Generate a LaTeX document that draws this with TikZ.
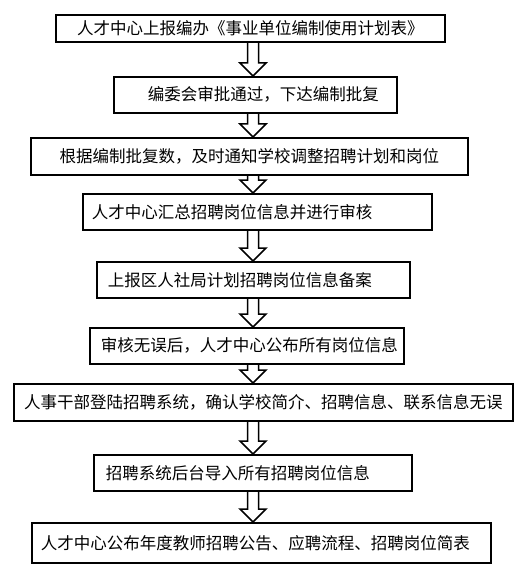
\documentclass[tikz,border=0pt]{standalone}
\usepackage{fontspec}
\newfontfamily\cjk{Noto Sans CJK SC}
\usepackage{tikz}
\usetikzlibrary{calc,positioning}

\tikzset{
	stepbox/.style={draw,line width=1.6pt,anchor=north west,inner xsep=0pt,font=\cjk\fontsize{16.5}{20}\selectfont},
	blockarrow/.style={line width=1.5pt,to path={let \p1=(\tikztostart), \p2=(\tikztotarget) in
		(\x1-5.5pt,\y1) -- (\x1-5.5pt,\y2+13pt) -- (\x1-13pt,\y2+13pt) -- (\x2,\y2)
		-- (\x1+13pt,\y2+13pt) -- (\x1+5.5pt,\y2+13pt) -- (\x1+5.5pt,\y1)}}
}

\begin{document}
\begin{tikzpicture}[x=1pt,y=-1pt]
		\useasboundingbox (0,0) rectangle (528,572);
		\coordinate (spine) at (253,0);
		
		\node[stepbox,minimum width=389pt,minimum height=27pt,text width=349pt,align=center] (b1) at (55,14) {人才中心上报编办《事业单位编制使用计划表》};
		\node[stepbox,minimum width=283pt,minimum height=36pt,text width=247pt,align=right] (b2) at (113,76) {编委会审批通过，下达编制批复};
		\node[stepbox,minimum width=437pt,minimum height=37pt,text width=387pt,align=center] (b3) at (30,137) {根据编制批复数，及时通知学校调整招聘计划和岗位};
		\node[stepbox,minimum width=349pt,minimum height=36pt,text width=331pt,align=left] (b4) at (82,193) {人才中心汇总招聘岗位信息并进行审核};
		\node[stepbox,minimum width=313pt,minimum height=36pt,text width=291pt,align=left] (b5) at (96,261) {上报区人社局计划招聘岗位信息备案};
		\node[stepbox,minimum width=314pt,minimum height=36pt,text width=292pt,align=left] (b6) at (89,327) {审核无误后，人才中心公布所有岗位信息};
		\node[stepbox,minimum width=499pt,minimum height=37pt,text width=481pt,align=center] (b7) at (13,383) {人事干部登陆招聘系统，确认学校简介、招聘信息、联系信息无误};
		\node[stepbox,minimum width=318pt,minimum height=36pt,text width=294pt,align=left] (b8) at (93,454) {招聘系统后台导入所有招聘岗位信息};
		\node[stepbox,minimum width=459pt,minimum height=40pt,text width=441pt,align=left] (b9) at (31,522) {人才中心公布年度教师招聘公告、应聘流程、招聘岗位简表};
		
		\draw[blockarrow] (b1.south -| spine) to (b2.north -| spine);
		\draw[blockarrow] (b2.south -| spine) to (b3.north -| spine);
		\draw[blockarrow] (b3.south -| spine) to (b4.north -| spine);
		\draw[blockarrow] (b4.south -| spine) to (b5.north -| spine);
		\draw[blockarrow] (b5.south -| spine) to (b6.north -| spine);
		\draw[blockarrow] (b6.south -| spine) to (b7.north -| spine);
		\draw[blockarrow] (b7.south -| spine) to (b8.north -| spine);
		\draw[blockarrow] (b8.south -| spine) to (b9.north -| spine);
\end{tikzpicture}
\end{document}
